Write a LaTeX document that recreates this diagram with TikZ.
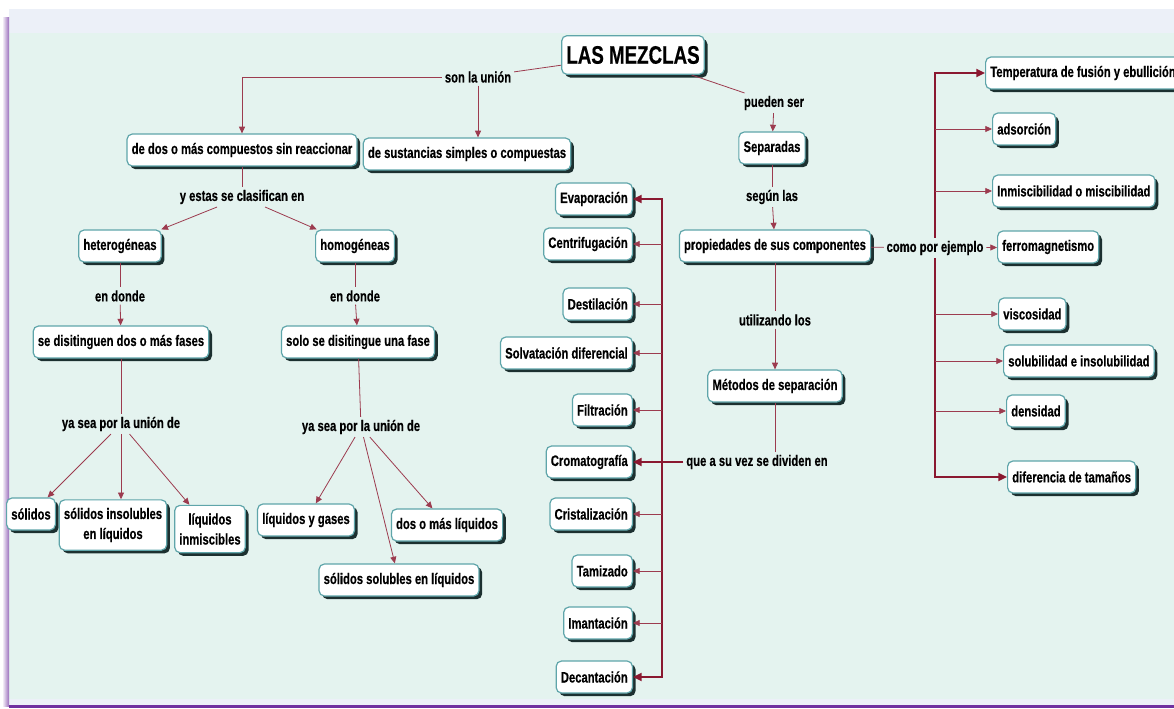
\documentclass[tikz,border=0pt]{standalone}
\usepackage{fontspec}
\setmainfont[FakeStretch=0.74,BoldFeatures={FakeBold=0.4}]{Liberation Sans}
\usetikzlibrary{arrows.meta,shadows}
\definecolor{mint}{RGB}{228,243,239}
\definecolor{lavband}{RGB}{236,240,248}
\definecolor{edgepurple}{RGB}{112,48,160}
\definecolor{linkred}{RGB}{138,24,48}
\definecolor{boxteal}{RGB}{95,165,170}
\definecolor{shadowdark}{RGB}{28,48,48}
\tikzset{concept/.style={draw=boxteal,line width=.9pt,fill=white,rounded corners=4pt,
    minimum height=24pt,inner xsep=3.5pt,inner ysep=3pt,align=center,
    font=\fontsize{11.4}{15}\selectfont\bfseries,
    drop shadow={shadow xshift=2.4pt,shadow yshift=-2.4pt,fill=shadowdark,opacity=1}},
  linkword/.style={inner sep=2pt,font=\fontsize{11.4}{13}\selectfont\bfseries},
  link/.style={draw=linkred!85,line width=.6pt},
  arrow/.style={link,-{Triangle[length=5pt,width=4.5pt]}},
  busline/.style={draw=linkred,line width=1.5pt},
  busarrow/.style={busline,-{Triangle[length=6.5pt,width=6pt]}}}

\begin{document}
\begin{tikzpicture}[x=.75pt,y=-.75pt]
  \path[use as bounding box] (0,0) rectangle (1174,709);
  % page background
  \fill[lavband] (9,9) rectangle (1174,33);
  \fill[mint] (9,33) rectangle (1174,699);
  \fill[lavband] (9,699) rectangle (1174,706);
  \shade[left color=white,right color=edgepurple!70] (2,18) rectangle (9,706);
  \fill[edgepurple] (9,705) rectangle (1174,708);

  \node[concept,font=\fontsize{19}{22}\selectfont\bfseries,minimum height=29pt] (mezclas) at (633,55) {LAS MEZCLAS};
  \node[linkword] (sonla) at (478,77) {son la unión};
  \node[concept] (dosmas) at (242,150) {de dos o más compuestos sin reaccionar};
  \node[concept] (sustancias) at (467,154) {de sustancias simples o compuestas};
  \node[linkword] (clasifican) at (242,197) {y estas se clasifican en};
  \node[concept] (hetero) at (120,246) {heterogéneas};
  \node[concept] (homo) at (355,246) {homogéneas};
  \node[linkword] (endonde1) at (120,296) {en donde};
  \node[linkword] (endonde2) at (355,296) {en donde};
  \node[concept] (fases) at (121,342) {se disitinguen dos o más fases};
  \node[concept] (unafase) at (358,342) {solo se disitingue una fase};
  \node[linkword] (yasea1) at (121,424) {ya sea por la unión de};
  \node[linkword] (yasea2) at (361,427) {ya sea por la unión de};
  \node[concept] (solidos) at (31,514) {sólidos};
  \node[concept,inner ysep=6pt] (insolubles) at (113,525) {sólidos insolubles\\en líquidos};
  \node[concept,inner ysep=6pt] (inmiscibles) at (210,529) {líquidos\\inmiscibles};
  \node[concept] (liqgases) at (306,520) {líquidos y gases};
  \node[concept] (dosliq) at (447,525) {dos o más líquidos};
  \node[concept] (solubles) at (399,580) {sólidos solubles en líquidos};

  \node[linkword] (pueden) at (774,103) {pueden ser};
  \node[concept] (separadas) at (772,148) {Separadas};
  \node[linkword] (segun) at (772,197) {según las};
  \node[concept] (propiedades) at (775,246) {propiedades de sus componentes};
  \node[linkword] (comopor) at (935,248) {como por ejemplo};
  \node[linkword] (utilizando) at (775,320) {utilizando los};
  \node[concept] (metodos) at (775,386) {Métodos de separación};
  \node[linkword] (quesu) at (757,462) {que a su vez se dividen en};

  \foreach \n/\t/\y in {evap/Evaporación/199,centri/Centrifugación/244,desti/Destilación/304,
      solva/Solvatación diferencial/353,filtra/Filtración/410,croma/Cromatografía/462,
      crista/Cristalización/514,tami/Tamizado/571,iman/Imantación/623,decan/Decantación/677}
    \node[concept,anchor=east] (\n) at (633,\y) {\t};
  \foreach \n/\t/\x/\y in {temp/Temperatura de fusión y ebullición/985/73,adsor/adsorción/992/129,
      inmisc/Inmiscibilidad o miscibilidad/992/191,ferro/ferromagnetismo/997/247,
      visc/viscosidad/998/314,solub/solubilidad e insolubilidad/1003/361,
      dens/densidad/1006/411,dif/diferencia de tamaños/1007/477}
    \node[concept,anchor=west] (\n) at (\x,\y) {\t};
  \coordinate (sepbus) at (662,0);
  \coordinate (propbus) at (935,0);

  % left branch
  \draw[link] (mezclas) -- (sonla);
  \draw[arrow] (sonla.west) -| (dosmas.north);
  \draw[arrow] (sonla.south) -- (sonla.south |- sustancias.north);
  \draw[link] (dosmas) -- (clasifican);
  \draw[arrow] (clasifican) -- (hetero);
  \draw[arrow] (clasifican) -- (homo);
  \draw[link] (hetero) -- (endonde1);
  \draw[arrow] (endonde1) -- (fases);
  \draw[link] (homo) -- (endonde2);
  \draw[arrow] (endonde2) -- (unafase);
  \draw[link] (fases) -- (yasea1);
  \draw[link] (unafase) -- (yasea2);
  \draw[arrow] (yasea1) -- (solidos);
  \draw[arrow] (yasea1.south) -- (yasea1.south |- insolubles.north);
  \draw[arrow] (yasea1) -- (inmiscibles);
  \foreach \n in {liqgases,solubles,dosliq}
    \draw[arrow] (yasea2) -- (\n);

  % right branch
  \draw[link] (mezclas) -- (pueden);
  \draw[arrow] (pueden) -- (separadas);
  \draw[link] (separadas) -- (segun);
  \draw[arrow] (segun) -- (propiedades);
  \draw[link] (propiedades) -- (utilizando);
  \draw[arrow] (utilizando) -- (metodos);
  \draw[link] (metodos.south) -- (metodos.south |- quesu.north);
  \draw[busline,{Triangle[length=6.5pt,width=6pt]}-{Triangle[length=6.5pt,width=6pt]}]
    (evap.east) -- (evap.east -| sepbus) -- (decan.east -| sepbus) -- (decan.east);
  \draw[busarrow] (quesu.west) -- (croma.east);
  \foreach \n in {centri,desti,solva,filtra,crista,tami,iman}
    \draw[arrow] (\n.east -| sepbus) -- (\n.east);

  \draw[link] (propiedades) -- (comopor);
  \draw[arrow] (comopor) -- (ferro);
  \draw[busarrow] (comopor.north) |- (temp.west);
  \draw[busarrow] (comopor.south) |- (dif.west);
  \foreach \n in {adsor,inmisc,visc,solub,dens}
    \draw[arrow] (\n.west -| propbus) -- (\n.west);
\end{tikzpicture}
\end{document}
